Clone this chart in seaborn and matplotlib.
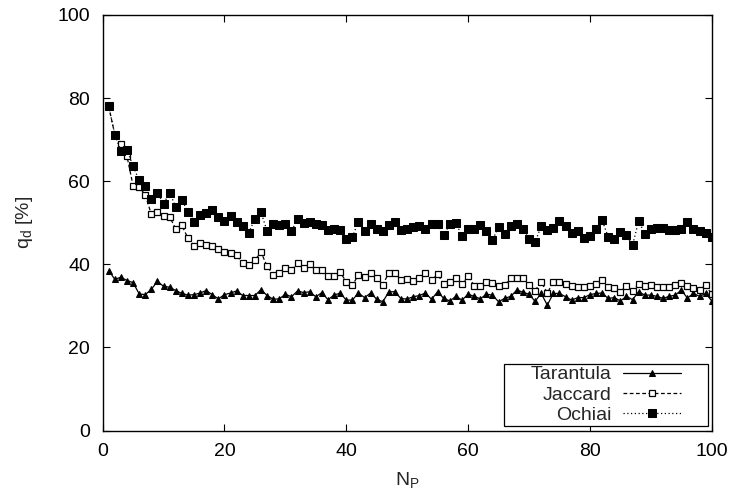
import numpy as np
import pandas as pd
import seaborn as sns
import matplotlib
matplotlib.use("Agg")
import matplotlib.pyplot as plt
from matplotlib.path import Path

n_p = np.arange(1, 101)

tarantula = [38.5, 36.4, 36.9, 36.1, 35.6, 32.9, 32.7, 34.0, 35.9, 34.7,
             34.5, 33.7, 33.0, 32.6, 32.7, 33.1, 33.7, 32.7, 31.7, 32.7,
             33.1, 33.6, 32.5, 32.5, 32.5, 33.9, 32.5, 31.6, 31.7, 32.8,
             32.2, 33.6, 33.2, 33.4, 32.2, 33.2, 31.5, 32.6, 33.1, 31.4,
             31.4, 33.1, 32.0, 33.1, 31.6, 31.0, 33.4, 33.4, 31.7, 31.7,
             32.2, 32.5, 33.1, 31.6, 33.4, 31.8, 31.2, 32.3, 31.4, 32.8,
             32.3, 31.7, 32.8, 32.6, 31.0, 31.8, 32.3, 33.8, 33.3, 32.8,
             31.1, 33.0, 30.2, 33.0, 33.0, 32.2, 31.4, 32.0, 32.0, 32.7,
             33.0, 33.1, 31.8, 32.0, 31.2, 32.3, 31.5, 33.4, 32.6, 32.6,
             32.3, 31.8, 32.3, 32.6, 33.8, 31.9, 33.0, 32.3, 33.0, 31.2]

jaccard = [78.0, 71.2, 69.0, 66.0, 58.9, 58.6, 56.7, 52.0, 52.6, 51.6,
           51.4, 48.6, 49.4, 46.3, 44.5, 45.1, 44.7, 44.3, 43.8, 43.0,
           42.7, 42.2, 40.2, 39.8, 41.0, 42.9, 39.6, 37.4, 37.9, 39.2,
           38.6, 40.2, 39.2, 40.0, 38.6, 38.6, 37.1, 37.3, 38.1, 35.8,
           35.0, 37.4, 37.0, 38.0, 36.8, 35.1, 38.0, 37.8, 36.3, 36.5,
           36.1, 36.6, 37.8, 36.2, 37.6, 35.2, 35.8, 36.8, 35.2, 37.1,
           34.9, 34.9, 35.8, 35.4, 34.7, 35.1, 36.6, 36.7, 36.6, 35.1,
           33.7, 35.8, 33.1, 35.8, 35.8, 35.2, 34.8, 34.6, 34.6, 34.8,
           35.2, 36.3, 34.6, 34.3, 33.4, 34.8, 33.6, 35.2, 34.7, 35.0,
           34.6, 34.6, 34.6, 35.1, 35.5, 34.8, 34.4, 33.8, 35.0, 32.8]

ochiai = [78.0, 71.2, 67.2, 67.6, 63.6, 60.2, 58.8, 55.6, 57.2, 54.6,
          57.2, 53.9, 55.5, 52.7, 50.3, 51.8, 52.4, 53.0, 51.5, 50.4,
          51.6, 50.3, 49.1, 47.6, 51.0, 52.5, 48.0, 49.6, 49.4, 49.6,
          48.0, 50.8, 50.0, 50.3, 49.8, 49.5, 48.2, 48.4, 48.2, 46.2,
          46.6, 50.3, 48.0, 49.6, 48.5, 48.0, 49.4, 50.2, 48.2, 48.6,
          49.0, 49.3, 48.6, 49.6, 49.6, 47.0, 49.6, 50.0, 46.7, 48.6,
          48.4, 49.4, 47.9, 45.8, 49.0, 47.4, 49.2, 49.6, 48.6, 46.0,
          45.3, 49.2, 48.2, 48.8, 50.4, 49.3, 47.6, 48.0, 46.4, 46.8,
          48.6, 50.6, 46.6, 46.0, 47.8, 47.0, 44.6, 50.4, 47.4, 48.6,
          48.8, 48.8, 48.2, 48.2, 48.4, 50.2, 48.6, 48.0, 47.6, 46.6]

sns.set_style("ticks")
plt.rcParams["font.family"] = ["Liberation Sans", "DejaVu Sans"]
plt.rcParams["font.size"] = 14
plt.rcParams["mathtext.default"] = "regular"

fig, ax = plt.subplots(figsize=(7.33, 4.95), dpi=100)
fig.subplots_adjust(left=0.140, right=0.971, top=0.970, bottom=0.130)

sns.lineplot(x=n_p, y=tarantula, ax=ax, color="black", lw=0.9,
             linestyle="-", marker="^", markersize=4, mec="black",
             label="Tarantula")
sns.lineplot(x=n_p, y=jaccard, ax=ax, color="black", lw=0.9,
             linestyle=(0, (3, 2)), marker="s", markersize=5,
             mfc="white", mec="black", mew=0.9, label="Jaccard")
sns.lineplot(x=n_p, y=ochiai, ax=ax, color="black", lw=0.9,
             linestyle=(0, (1, 2)), marker="s", markersize=6,
             mec="black", label="Ochiai")

ax.set_xlim(0, 100)
ax.set_ylim(0, 100)
ax.set_xticks(range(0, 101, 20))
ax.set_yticks(range(0, 101, 20))
ax.tick_params(direction="in", length=5, width=0.8, top=True, right=True,
               labelsize=14, colors="black", pad=9)
for s in ax.spines.values():
    s.set_visible(True)
    s.set_linewidth(1.0)
    s.set_color("black")

ax.set_xlabel("N$_{P}$", fontsize=14, labelpad=7)
ax.set_ylabel("q$_{d}$ [%]", fontsize=14, labelpad=16)


# gnuplot-like key: extra horizontal room inside the frame
def wide_box(x0, y0, width, height, mutation_size):
    ex = 24
    return Path([(x0 - ex, y0), (x0 + width + ex, y0),
                 (x0 + width + ex, y0 + height), (x0 - ex, y0 + height),
                 (x0 - ex, y0)], closed=True)


leg = ax.legend(loc="lower right", bbox_to_anchor=(0.954, 0.011),
                markerfirst=False, handlelength=3.0, handletextpad=0.6,
                labelspacing=0.13, borderpad=0.12, borderaxespad=0,
                fancybox=False, framealpha=1, edgecolor="black", fontsize=14)
leg.get_frame().set_linewidth(0.9)
leg.get_frame().set_boxstyle(wide_box)

fig.savefig("out.png", dpi=100)
